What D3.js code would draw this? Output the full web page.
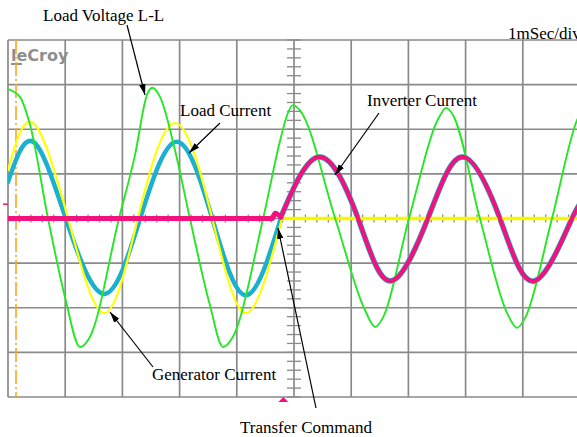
<!DOCTYPE html>
<html>
<head>
<meta charset="utf-8">
<script src="https://d3js.org/d3.v7.min.js"></script>
<style>
  body { margin: 0; background: #fff; }
  svg { display: block; }
  .lbl { font-family: "Liberation Serif", "Times New Roman", serif; font-size: 17px; fill: #000; }
</style>
</head>
<body>
<svg id="scope" width="577" height="437"></svg>
<script>
// scope screen: 10 time divisions (1 ms each), 8 vertical divisions
const timeDivs = 10
const ampDivs = 8

// values, [ms, divisions]
const loadVoltage = [
  [0, 2.90], [0.21, 2.72], [0.385, 2.10], [0.70, 0], [1.00, -1.78], [1.26, -2.88], [1.43, -2.66],
  [1.94, 0], [2.22, 1.42], [2.43, 2.77], [2.52, 2.93], [2.66, 2.72], [2.92, 1.53], [3.18, 0],
  [3.53, -1.94], [3.76, -2.88], [3.92, -2.68], [4.46, 0], [4.76, 1.76], [4.88, 2.32], [4.98, 2.54],
  [5.10, 2.43], [5.72, 0], [6.24, -2.05], [6.42, -2.43], [6.56, -2.21], [7.01, 0], [7.55, 2.30],
  [7.66, 2.48], [7.78, 2.32], [8.25, 0], [8.74, -2.16], [8.90, -2.45], [9.04, -2.23], [9.51, 0],
  [9.95, 2.21], [10, 2.35]
]

const generatorCurrent = [
  [0, 1.09], [0.44, 2.14], [1.05, 0], [1.68, -2.12], [2.27, 0], [2.92, 2.14], [3.57, 0],
  [4.16, -2.12], [4.79, 0]
]
const generatorOff = [[4.79, 0], [10, 0]]

const loadCurrent = [
  [0, 0.82], [0.44, 1.72], [1.01, 0], [1.68, -1.69], [2.31, 0], [2.95, 1.72], [3.57, 0],
  [4.16, -1.72], [4.77, 0]
]

const inverterIdle = [[0, 0], [4.62, 0], [4.67, 0.12], [4.77, 0.03]]
const inverterCurrent = [
  [4.77, 0.03], [5.45, 1.38], [6.12, 0], [6.68, -1.40], [7.34, 0], [7.94, 1.38], [8.60, 0],
  [9.20, -1.40], [9.86, 0], [10.1, 0.40]
]

const transferAt = 4.77  // trigger marker, ms
const cursorAt = 0.14    // orange cursor, ms

const notes = [
  {text: "Load Voltage L-L", x: 43, y: 21, from: [127, 25], to: [145, 95]},
  {text: "Load Current", x: 180, y: 116, from: [220, 123], to: [189, 153]},
  {text: "Inverter Current", x: 367, y: 106, from: [379, 113], to: [335, 175]},
  {text: "Generator Current", x: 152, y: 380, from: [153, 367], to: [110, 312]},
  {text: "Transfer Command", x: 240, y: 433, from: [316, 408], to: [278, 228]}
]

const svg = d3.select('#scope')

const x = d3.scaleLinear().domain([0, timeDivs]).range([8, 580])
const y = d3.scaleLinear().domain([-ampDivs / 2, ampDivs / 2]).range([397, 40])

svg.append("defs").append("clipPath").attr("id", "screen")
  .append("rect").attr("x", x(0)).attr("y", y(4) - 3).attr("width", x(10) - x(0)).attr("height", y(-4) - y(4) + 6)

svg.select("defs").append("marker")
  .attr("id", "head")
  .attr("markerUnits", "userSpaceOnUse")
  .attr("markerWidth", 12).attr("markerHeight", 8)
  .attr("refX", 11).attr("refY", 4)
  .attr("orient", "auto")
  .append("path").attr("d", "M0,0.8 L11,4 L0,7.2 Z").attr("fill", "#000")

// grid
const grid = svg.append("g").attr("stroke", "#8a8a8a").attr("stroke-width", 1.7)
grid.selectAll("line.v").data(d3.range(0, timeDivs + 1)).enter().append("line")
  .attr("x1", d => x(d)).attr("x2", d => x(d)).attr("y1", y(4)).attr("y2", y(-4))
grid.selectAll("line.h").data(d3.range(-4, 5)).enter().append("line")
  .attr("x1", x(0)).attr("x2", x(10)).attr("y1", d => y(d)).attr("y2", d => y(d))

// minor ticks on centre axes
const minor = svg.append("g").attr("stroke", "#8a8a8a").attr("stroke-width", 1.3)
minor.selectAll("line.my").data(d3.range(-4, 4.01, 0.2)).enter().append("line")
  .attr("x1", x(5) - 7).attr("x2", x(5) + 7).attr("y1", d => y(d)).attr("y2", d => y(d))
minor.selectAll("line.mx").data(d3.range(0, 10.01, 0.2)).enter().append("line")
  .attr("x1", d => x(d)).attr("x2", d => x(d)).attr("y1", y(0) - 4).attr("y2", y(0) + 4)

// logo
svg.append("text")
  .attr("x", 11).attr("y", 61)
  .style("font-family", "'DejaVu Sans', 'Liberation Sans', sans-serif")
  .style("font-weight", "bold").style("font-size", "16px")
  .attr("fill", "#8e8e8e")
  .text("leCroy")
svg.append("rect").attr("x", 11).attr("y", 63).attr("width", 11).attr("height", 2).attr("fill", "#8e8e8e")

// orange cursor
svg.append("line")
  .attr("x1", x(cursorAt)).attr("x2", x(cursorAt)).attr("y1", y(4)).attr("y2", y(-4))
  .attr("stroke", "#ffa526").attr("stroke-width", 1.6)
  .attr("stroke-dasharray", "14,3,2,3")

const traces = svg.append("g").attr("clip-path", "url(#screen)")
  .attr("fill", "none").attr("stroke-linejoin", "round").attr("stroke-linecap", "round")

const natural = d3.line().x(d => x(d[0])).y(d => y(d[1])).curve(d3.curveNatural)
const mono = d3.line().x(d => x(d[0])).y(d => y(d[1])).curve(d3.curveMonotoneX)
const straight = d3.line().x(d => x(d[0])).y(d => y(d[1]))

// load current (cyan), after transfer it follows the inverter current
traces.append("path").attr("d", natural(loadCurrent)).attr("stroke", "#1cb0cf").attr("stroke-width", 4.5)
traces.append("path").attr("d", natural(inverterCurrent)).attr("stroke", "#1cb0cf").attr("stroke-width", 5.5)

// generator current (yellow)
traces.append("path").attr("d", natural(generatorCurrent)).attr("stroke", "#ffff00").attr("stroke-width", 2.2)
traces.append("path").attr("d", straight(generatorOff)).attr("stroke", "#f7f700").attr("stroke-width", 3.5)

// load voltage (green)
traces.append("path").attr("d", mono(loadVoltage)).attr("stroke", "#26e626").attr("stroke-width", 1.9)

// inverter current (magenta)
traces.append("path").attr("d", mono(inverterIdle)).attr("stroke", "#f2127e").attr("stroke-width", 5)
traces.append("path").attr("d", natural(inverterCurrent)).attr("stroke", "#f2127e").attr("stroke-width", 4.2)

// channel ground marker and trigger marker
svg.append("line").attr("x1", 3).attr("x2", 8).attr("y1", y(0.32)).attr("y2", y(0.32))
  .attr("stroke", "#f2127e").attr("stroke-width", 1.5)
svg.append("path")
  .attr("d", d3.line()([[x(transferAt) + 2.5, y(-4) ], [x(transferAt) - 2.5, y(-4) + 5], [x(transferAt) + 7.5, y(-4) + 5]]) + "Z")
  .attr("fill", "#f2127e")

// time base
svg.append("text").attr("class", "lbl").attr("x", 508).attr("y", 39).text("1mSec/div")

// annotations
const ann = svg.append("g")
ann.selectAll("text").data(notes).enter().append("text")
  .attr("class", "lbl").attr("x", d => d.x).attr("y", d => d.y).text(d => d.text)
ann.selectAll("line").data(notes).enter().append("line")
  .attr("x1", d => d.from[0]).attr("y1", d => d.from[1])
  .attr("x2", d => d.to[0]).attr("y2", d => d.to[1])
  .attr("stroke", "#000").attr("stroke-width", 1.2)
  .attr("marker-end", "url(#head)")
</script>
</body>
</html>
